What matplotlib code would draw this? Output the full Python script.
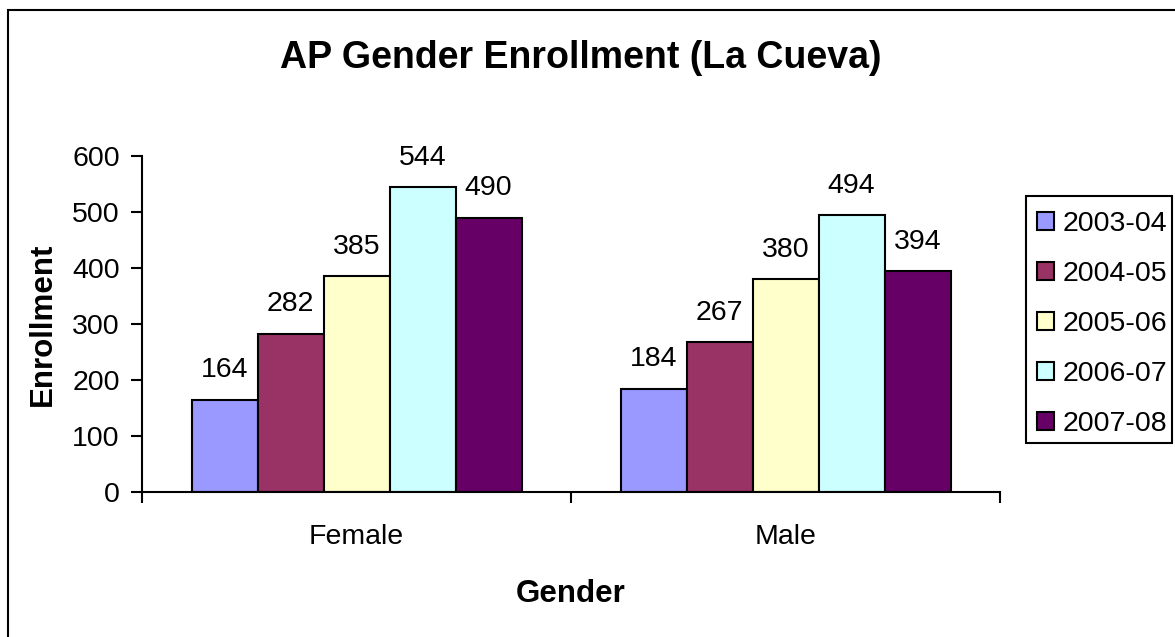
import matplotlib
matplotlib.use("Agg")
import matplotlib.pyplot as plt
import numpy as np
from matplotlib.patches import Rectangle

categories = ["Female", "Male"]
years = ["2003-04", "2004-05", "2005-06", "2006-07", "2007-08"]
values_2003_04 = [164, 184]
values_2004_05 = [282, 267]
values_2005_06 = [385, 380]
values_2006_07 = [544, 494]
values_2007_08 = [490, 394]
series = [values_2003_04, values_2004_05, values_2005_06, values_2006_07, values_2007_08]
colors = ["#9999FF", "#993366", "#FFFFCC", "#CCFFFF", "#660066"]

plt.rcParams['font.family'] = ['Liberation Sans', 'DejaVu Sans']

FS = 20.5
W, H = 1175, 637
fig = plt.figure(figsize=(W / 100, H / 100), dpi=100)
fig.patch.set_facecolor("white")

# outer chart border
fig.add_artist(Rectangle((8 / W, -0.05), 1.2, 1 - 10 / H + 0.05, transform=fig.transFigure,
                         fill=False, edgecolor="black", linewidth=1.5))

ax = fig.add_axes([142 / W, 1 - 492 / H, (1000 - 142) / W, (492 - 156) / H])

n = len(series)
bw = 1 / 6.5
x = np.arange(len(categories))
for i, (vals, c, lab) in enumerate(zip(series, colors, years)):
    pos = x + (i - (n - 1) / 2) * bw
    bars = ax.bar(pos, vals, width=bw, color=c, edgecolor="black", linewidth=1.5, label=lab)
    ax.bar_label(bars, labels=[str(v) for v in vals], padding=12, fontsize=FS)

ax.set_xlim(-0.5, 1.5)
ax.set_ylim(0, 600)
ax.set_yticks(np.arange(0, 601, 100))
ax.set_xticks([-0.5, 0.5, 1.5], minor=False)
ax.set_xticklabels([])
ax.set_xticks(x, minor=True)
ax.set_xticklabels(categories, minor=True, fontsize=FS)
ax.tick_params(axis='x', which='minor', length=0, pad=23)
ax.tick_params(axis='x', which='major', length=8, width=1.5, direction='out')
ax.tick_params(axis='y', length=8, width=1.5, direction='out', labelsize=FS, pad=8)
for s in ["top", "right"]:
    ax.spines[s].set_visible(False)
for s in ["left", "bottom"]:
    ax.spines[s].set_linewidth(1.5)
ax.set_facecolor("white")

ax.set_xlabel("Gender", fontsize=22.5, fontweight="bold", labelpad=21)
ax.set_ylabel("Enrollment", fontsize=22.5, fontweight="bold", labelpad=10)

fig.text(0.494, 1 - 58 / H, "AP Gender Enrollment (La Cueva)", fontsize=27,
         fontweight="bold", ha="center", va="center")

# legend box (drawn separately so its padding matches the reference)
fig.add_artist(Rectangle((1026 / W, 1 - 443 / H), (1172 - 1026) / W, (443 - 196) / H,
                         transform=fig.transFigure, fill=False, edgecolor="black",
                         linewidth=1.5, zorder=5))
leg = fig.legend(loc="upper left", bbox_to_anchor=(1026 / W, 1 - 200 / H),
                 bbox_transform=fig.transFigure, fontsize=FS, frameon=False,
                 handlelength=0.6, handleheight=0.6,
                 handletextpad=0.3, labelspacing=0.84, borderpad=0.4, borderaxespad=0)

fig.savefig("out.png", dpi=100)
